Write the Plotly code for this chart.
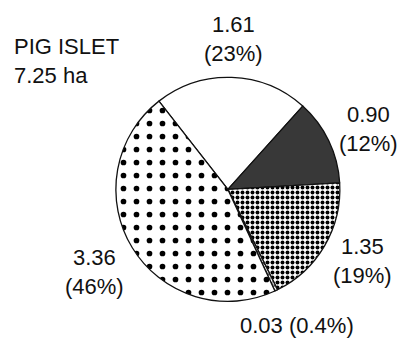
import plotly.graph_objects as go

# Land area by cover class, Pig Islet (ha)
areas = [1.61, 0.90, 1.35, 0.03, 3.36]
pct_labels = ["23%", "12%", "19%", "0.4%", "46%"]
site_name = "PIG ISLET"
site_total = "7.25 ha"

# Fill style for each class: (background colour, pattern shape, pattern size, solidity)
fills = [
    ("white", "", 8, 0.2),
    ("#383838", "", 8, 0.2),
    ("white", ".", 5, 0.5),
    ("white", "x", 4, 0.3),
    ("white", ".", 13, 0.15),
]

# Label anchor points in paper coordinates, one per slice
label_pos = [
    (0.573, 0.885, "inline"),
    (0.904, 0.620, "inline"),
    (0.889, 0.233, "inline"),
    (0.727, 0.042, "single"),
    (0.232, 0.200, "inline"),
]

fig = go.Figure(
    go.Pie(
        values=areas,
        sort=False,
        direction="clockwise",
        rotation=-38,
        textinfo="none",
        hoverinfo="skip",
        showlegend=False,
        marker=dict(
            colors=[f[0] for f in fills],
            line=dict(color="#111111", width=1.3),
            pattern=dict(
                shape=[f[1] for f in fills],
                size=[f[2] for f in fills],
                solidity=[f[3] for f in fills],
                fgcolor="#000000",
                fgopacity=1,
                fillmode="overlay",
            ),
        ),
        domain=dict(x=[0.284, 0.833], y=[0.112, 0.774]),
    )
)

font = dict(family="Liberation Sans, Arial, sans-serif", size=22, color="#111111")

annotations = []
for v, p, (x, y, kind) in zip(areas, pct_labels, label_pos):
    if kind == "single":
        text = f"{v:.2f} ({p})"
    else:
        text = f"{v:.2f}<br>({p})"
    annotations.append(
        dict(x=x, y=y, xref="paper", yref="paper", text=text, showarrow=False,
             xanchor="center", yanchor="middle", align="center", font=font)
    )

annotations.append(
    dict(x=0.03, y=0.82, xref="paper", yref="paper",
         text=f"{site_name}<br>{site_total}", showarrow=False,
         xanchor="left", yanchor="middle", align="left", font=font)
)

fig.update_layout(
    width=408,
    height=340,
    margin=dict(l=0, r=0, t=0, b=0),
    paper_bgcolor="white",
    plot_bgcolor="white",
    annotations=annotations,
)

fig.write_html("out.html")
